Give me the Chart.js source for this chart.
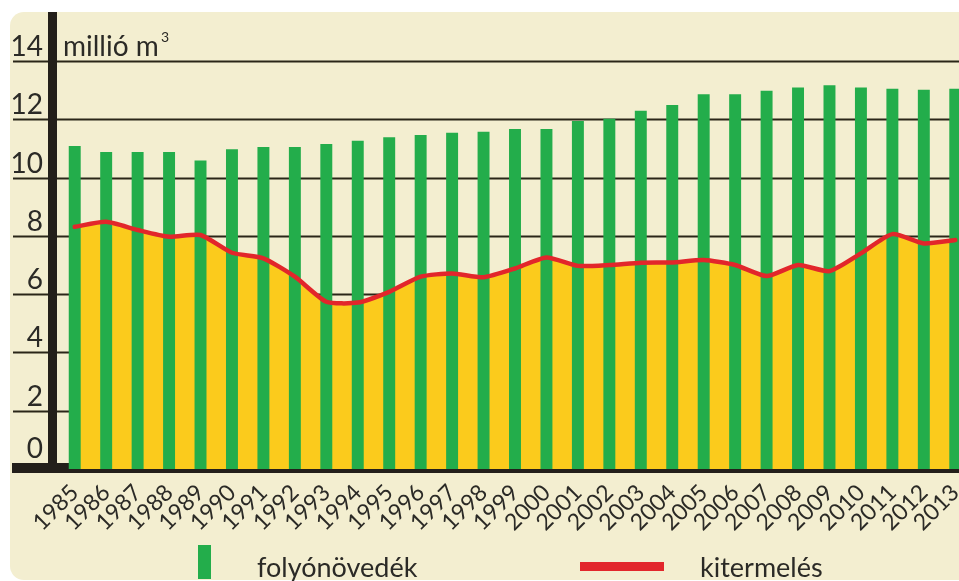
<!DOCTYPE html>
<html>
<head>
<meta charset="utf-8">
<script src="https://cdn.jsdelivr.net/npm/chart.js@4/dist/chart.umd.min.js"></script>
<style>
  html, body { margin: 0; padding: 0; background: #ffffff; overflow: hidden; }
  #panel {
    position: absolute; left: 10px; top: 12px; width: 1000px; height: 568px;
    background: #f3eed0; border-radius: 14px;
  }
  #chart { position: absolute; left: 0; top: 0; }
</style>
</head>
<body>
<div id="panel"></div>
<canvas id="chart" width="990" height="581"></canvas>
<script>
// folyónövedék vs kitermelés, millió m3
const years = [
  "1985", "1986", "1987", "1988", "1989", "1990", "1991", "1992", "1993", "1994",
  "1995", "1996", "1997", "1998", "1999", "2000", "2001", "2002", "2003", "2004",
  "2005", "2006", "2007", "2008", "2009", "2010", "2011", "2012", "2013",
];
const growth = [
  11.08, 10.88, 10.88, 10.88, 10.59, 10.97, 11.05, 11.05, 11.15, 11.26,
  11.38, 11.46, 11.54, 11.57, 11.67, 11.67, 11.94, 12.02, 12.29, 12.49,
  12.86, 12.86, 12.98, 13.09, 13.17, 13.09, 13.05, 13.01, 13.05,
];
const harvest = [
  8.31, 8.48, 8.2, 7.97, 8.03, 7.42, 7.23, 6.6, 5.74, 5.71,
  6.08, 6.6, 6.71, 6.58, 6.88, 7.26, 6.97, 7.0, 7.08, 7.09,
  7.17, 7.0, 6.62, 7.0, 6.79, 7.4, 8.06, 7.74, 7.86,
];
const yTicks = [0, 2, 4, 6, 8, 10, 12, 14];

const GREEN = "#23ad4b";
const YELLOW = "#fbcb1c";
const RED = "#e2262b";
const INK = "#2b2a26";
const LINE = "#2a2618";

// grid, thick axes, y labels and the legend are drawn by hand
const decor = {
  id: "decor",
  beforeDatasetsDraw(chart) {
    const ctx = chart.ctx;
    const y = chart.scales.y;
    ctx.save();
    ctx.strokeStyle = LINE;
    ctx.lineWidth = 2;
    yTicks.forEach((v) => {
      if (v === 0) return;
      const py = Math.round(y.getPixelForValue(v)) + 0.5;
      ctx.beginPath();
      ctx.moveTo(13, py);
      ctx.lineTo(chart.width, py);
      ctx.stroke();
    });
    ctx.fillStyle = "#231f1a";
    const y0 = y.getPixelForValue(0);
    ctx.fillRect(12, y0 - 6, chart.width, 10);
    ctx.fillRect(48, 12, 9, y0 - 12);
    ctx.restore();
  },
  afterDraw(chart) {
    const ctx = chart.ctx;
    const y = chart.scales.y;
    ctx.save();
    ctx.fillStyle = INK;
    ctx.font = "28px Lato";
    ctx.textAlign = "right";
    ctx.textBaseline = "alphabetic";
    yTicks.forEach((v) => {
      const py = Math.min(y.getPixelForValue(v), y.getPixelForValue(0) - 6);
      ctx.fillText(String(v), 43, py - 5);
    });
    ctx.textAlign = "left";
    ctx.fillText("millió m", 63, y.getPixelForValue(14) - 5);
    ctx.font = "14px Lato";
    ctx.fillText("3", 161, y.getPixelForValue(14) - 19);

    // legend
    ctx.fillStyle = GREEN;
    ctx.fillRect(198, 545, 13, 34);
    ctx.fillStyle = RED;
    ctx.fillRect(580, 562, 84, 9);
    ctx.fillStyle = INK;
    ctx.font = "27px Lato";
    ctx.fillText("folyónövedék", 257, 577);
    ctx.fillText("kitermelés", 700, 577);
    ctx.restore();
  },
};

new Chart(document.getElementById("chart").getContext("2d"), {
  data: {
    labels: years,
    datasets: [
      {
        type: "line",
        label: "kitermelés",
        data: harvest,
        borderColor: RED,
        borderWidth: 4.5,
        borderJoinStyle: "round",
        borderCapStyle: "round",
        pointRadius: 0,
        tension: 0.2,
        fill: false,
        order: 0,
      },
      {
        type: "bar",
        label: "folyónövedék",
        data: growth,
        backgroundColor: GREEN,
        barPercentage: 0.38,
        categoryPercentage: 1,
        order: 1,
      },
      {
        type: "line",
        label: "kitermelés terület",
        data: harvest,
        borderWidth: 0,
        backgroundColor: YELLOW,
        pointRadius: 0,
        tension: 0.2,
        fill: "origin",
        order: 2,
      },
    ],
  },
  options: {
    responsive: false,
    animation: false,
    layout: { padding: { left: 59, right: 19, top: 61, bottom: 0 } },
    scales: {
      x: {
        grid: { display: false, drawTicks: false },
        border: { display: false },
        ticks: {
          color: INK,
          font: { family: "Lato", size: 23 },
          minRotation: 45,
          maxRotation: 45,
          autoSkip: false,
          padding: 10,
        },
        afterFit: (scale) => { scale.height = 112; },
      },
      y: {
        display: false,
        min: 0,
        max: 14,
      },
    },
    plugins: {
      legend: { display: false },
      tooltip: { enabled: false },
    },
  },
  plugins: [decor],
});
</script>
</body>
</html>
